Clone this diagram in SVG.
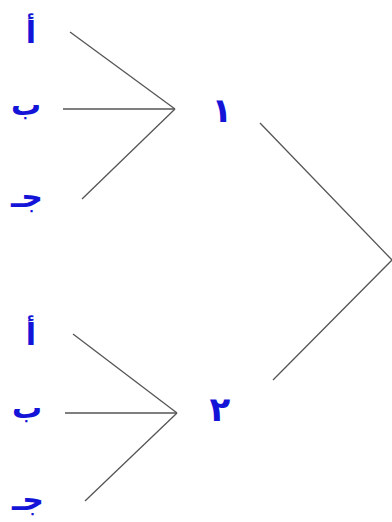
<svg xmlns="http://www.w3.org/2000/svg" width="392" height="522" viewBox="0 0 392 522">
<style>
.lbl{font-family:"DejaVu Sans","Noto Sans",sans-serif;font-weight:bold;font-size:30px;fill:#1414d8;text-anchor:middle}
.num{font-size:34px}
.ln{stroke:#555;stroke-width:1.3;fill:none}
</style>
<rect width="392" height="522" fill="#fff"/>
<g id="connectors">
<polyline class="ln" points="70,32 175,109"/>
<polyline class="ln" points="63,109 175,109"/>
<polyline class="ln" points="82,199 175,109"/>
<polyline class="ln" points="73,334 177,413"/>
<polyline class="ln" points="65,413 177,413"/>
<polyline class="ln" points="85,501 177,413"/>
<polyline class="ln" points="260,123 392,260 273,380"/>
</g>
<g id="n-a1"><text class="lbl" x="31" y="43">أ</text></g>
<g id="n-b1"><text class="lbl" x="26" y="115">ب</text></g>
<g id="n-j1"><text class="lbl" x="27" y="207">جـ</text></g>
<g id="n-1"><text class="lbl num" x="222" y="122">١</text></g>
<g id="n-a2"><text class="lbl" x="31" y="345">أ</text></g>
<g id="n-b2"><text class="lbl" x="27" y="418">ب</text></g>
<g id="n-j2"><text class="lbl" x="28" y="510">جـ</text></g>
<g id="n-2"><text class="lbl num" x="220" y="421">٢</text></g>
</svg>
